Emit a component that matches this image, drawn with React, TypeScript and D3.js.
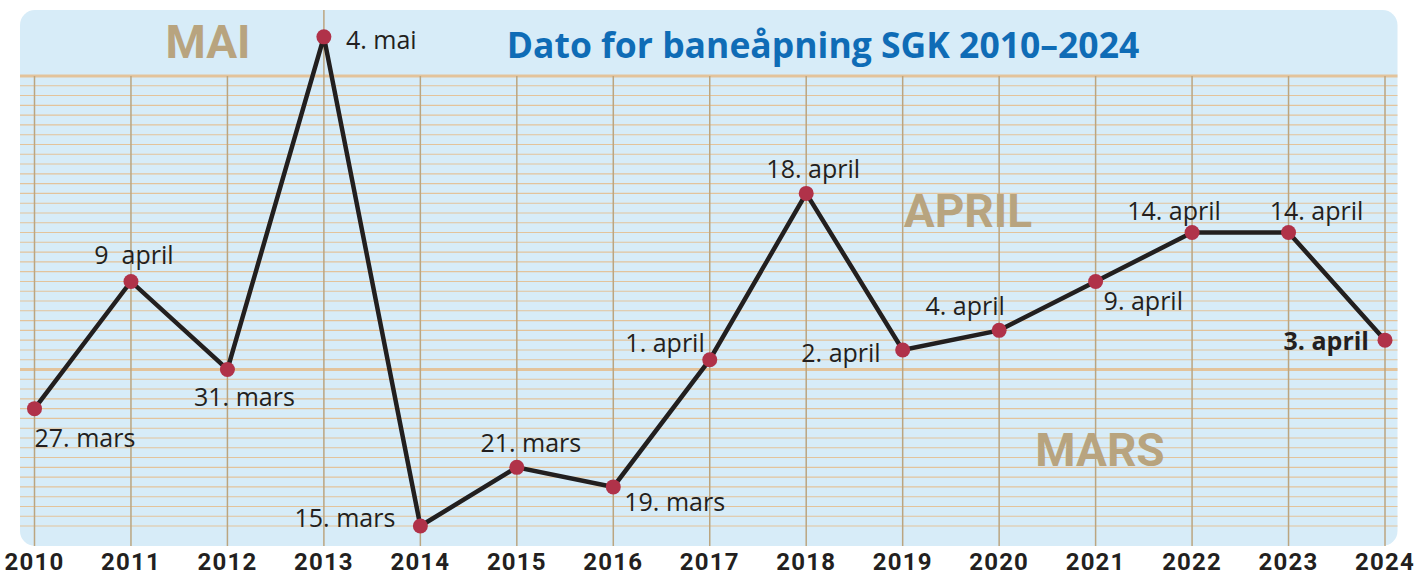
import React from "react"
import * as d3 from "d3"

const years = [2010, 2011, 2012, 2013, 2014, 2015, 2016, 2017, 2018, 2019, 2020, 2021, 2022, 2023, 2024]
// opening day (month-day) per season
const openingDates = ["03-27", "04-09", "03-31", "05-04", "03-15", "03-21", "03-19", "04-01", "04-18", "04-02", "04-04", "04-09", "04-14", "04-14", "04-03"]
const dateLabels = ["27. mars", "9  april", "31. mars", "4. mai", "15. mars", "21. mars", "19. mars", "1. april", "18. april", "2. april", "4. april", "9. april", "14. april", "14. april", "3. april"]
const monthNames = ["MAI", "APRIL", "MARS"]
const title = "Dato for baneåpning SGK 2010–2024"

// label placement relative to each point: [dx, dy, anchor]
const labelPlacement: [number, number, string][] = [
  [0, 38, "start"],
  [3, -17, "middle"],
  [17, 36, "middle"],
  [22, 12, "start"],
  [-25, 1, "end"],
  [14, -15, "middle"],
  [11, 24, "start"],
  [-5, -8, "end"],
  [7, -15, "middle"],
  [-22, 12, "end"],
  [-34, -15, "middle"],
  [8, 29, "start"],
  [-18, -13, "middle"],
  [28, -13, "middle"],
  [-16, 10, "end"],
]
const monthPlacement = [
  [208, 58],
  [968, 227],
  [1100, 466],
]

const width = 1423
const height = 577
const parse = d3.timeParse("%Y-%m-%d")
const toDate = (md: string) => parse(`2001-${md}`) as Date

export default function App() {
  const x = d3.scalePoint<number>().domain(years).range([34.5, 1385])
  const y = d3
    .scaleTime()
    .domain([toDate("03-31"), toDate("04-30")])
    .range([369.5, 76])

  const values = openingDates.map(toDate)
  const gridDays = d3.timeDay.range(toDate("03-15"), toDate("05-01"))
  const isMonthEnd = (d: Date) => d3.timeDay.offset(d, 1).getDate() === 1
  const maxDate = d3.max(values) as Date

  const line = d3
    .line<Date>()
    .x((_, i) => x(years[i]) as number)
    .y((d) => y(d))

  const bgLeft = 20
  const bgRight = 1397.5
  const bgTop = 10
  const bgBottom = 546

  return (
    <div style={{ position: "absolute", left: 0, top: 0 }}>
      <svg width={width} height={height} style={{ display: "block" }}>
        <rect x={bgLeft} y={bgTop} width={bgRight - bgLeft} height={bgBottom - bgTop} rx={15} fill="#d7ecf8" />
        {gridDays.map((d, i) => (
          <line
            key={i}
            x1={bgLeft}
            x2={bgRight}
            y1={y(d)}
            y2={y(d)}
            stroke="#e3c39b"
            strokeWidth={isMonthEnd(d) ? 3 : 1.1}
          />
        ))}
        {years.map((yr, i) => (
          <line
            key={yr}
            x1={x(yr)}
            x2={x(yr)}
            y1={values[i] === maxDate ? bgTop : y(toDate("04-30"))}
            y2={bgBottom}
            stroke="#bba580"
            strokeWidth={1.5}
          />
        ))}
        {monthNames.map((m, i) => (
          <text
            key={m}
            x={monthPlacement[i][0]}
            y={monthPlacement[i][1]}
            textAnchor="middle"
            fontFamily="Roboto"
            fontWeight={700}
            fontSize={46}
            fill="#b8a47f"
          >
            {m}
          </text>
        ))}
        <text x={823} y={58} textAnchor="middle" fontFamily="Open Sans" fontWeight={700} fontSize={35.5} fill="#0f6cb6">
          {title}
        </text>
        <path d={line(values) as string} fill="none" stroke="#221f1f" strokeWidth={4.5} strokeLinejoin="miter" />
        {values.map((d, i) => (
          <circle key={i} cx={x(years[i])} cy={y(d)} r={7.5} fill="#b03249" />
        ))}
        {values.map((d, i) => (
          <text
            key={i}
            x={(x(years[i]) as number) + labelPlacement[i][0]}
            y={y(d) + labelPlacement[i][1]}
            textAnchor={labelPlacement[i][2]}
            fontFamily="Open Sans"
            fontWeight={i === years.length - 1 ? 700 : 400}
            fontSize={25}
            fill="#231f20"
            style={{ whiteSpace: "pre" }}
          >
            {dateLabels[i]}
          </text>
        ))}
        {years.map((yr) => (
          <text
            key={yr}
            x={x(yr)}
            y={570}
            textAnchor="middle"
            fontFamily="Roboto"
            fontWeight={700}
            fontSize={24}
            letterSpacing={1.2}
            fill="#231f20"
          >
            {yr}
          </text>
        ))}
      </svg>
    </div>
  )
}
